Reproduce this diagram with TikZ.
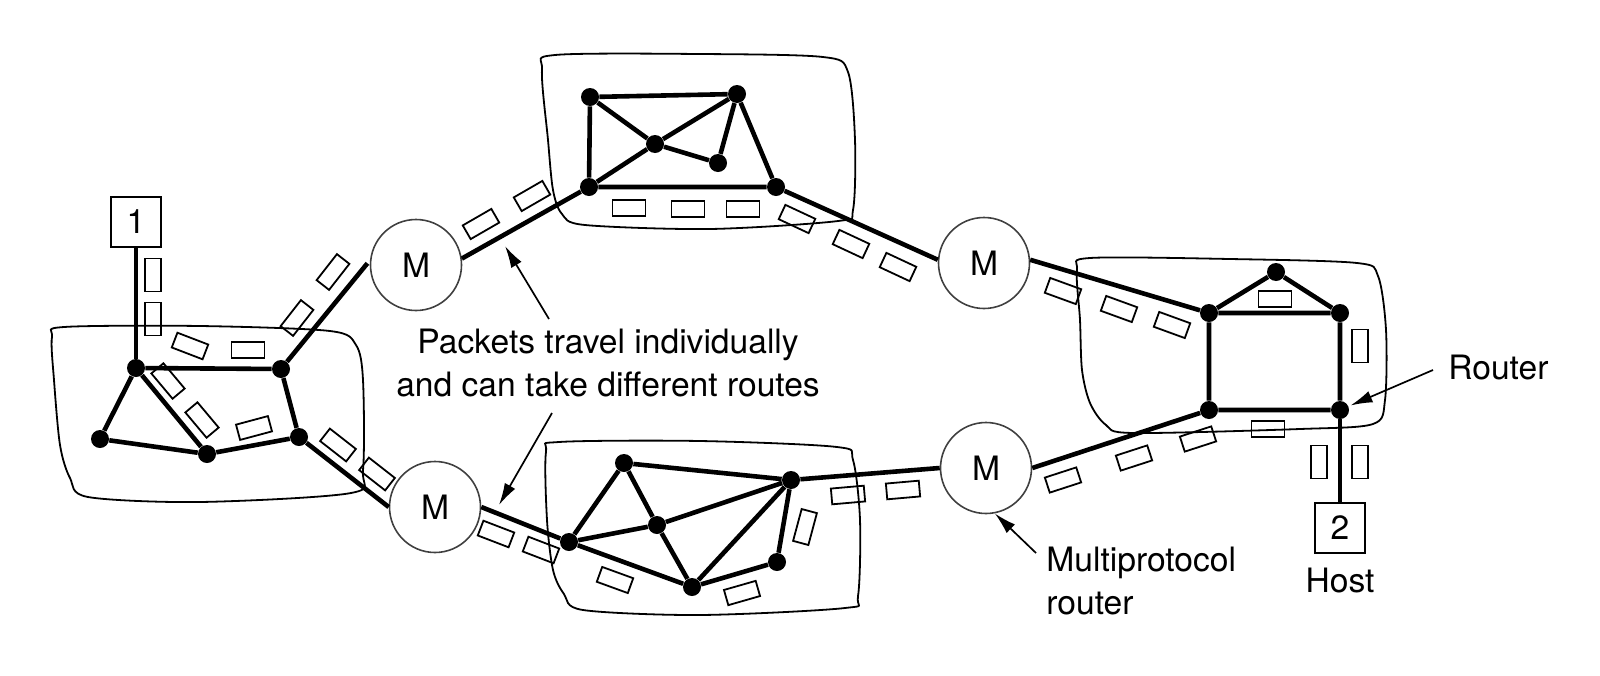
\documentclass[tikz,border=0pt]{standalone}
\usepackage{fontspec}
\setmainfont{TeX Gyre Heros}
\usetikzlibrary{arrows.meta}
\begin{document}
\begin{tikzpicture}[x=0.5pt,y=-0.5pt,
  link/.style={line width=2.3pt},
  dot/.style={circle,fill=black,inner sep=0pt,minimum size=9pt},
  mrouter/.style={circle,draw=black!75,line width=0.8pt,minimum size=45.5pt,inner sep=0pt,font=\fontsize{16.8}{21.5}\selectfont},
  hostbox/.style={draw,line width=0.9pt,minimum size=25pt,inner sep=0pt,font=\fontsize{16.8}{21.5}\selectfont},
  pkt/.style={draw,line width=0.9pt,minimum width=16.5pt,minimum height=7.9pt,inner sep=0pt},
  blob/.style={line width=0.9pt},
  lbl/.style={inner sep=0pt,font=\fontsize{16.8}{21.5}\selectfont},
  arr/.style={line width=0.85pt,-{Latex[length=11pt,width=6pt]}},
]
\useasboundingbox (0,0) rectangle (1600,675);
\fill[white] (0,0) rectangle (1600,675);

% networks (clouds)
\draw[blob] plot[smooth cycle,tension=0.5] coordinates {(52,337) (64,327) (200,326) (330,331) (356,345) (363,380) (363,470) (351,493) (200,502) (88,497) (70,478) (60,445) (54,380)};
\draw[blob] plot[smooth cycle,tension=0.5] coordinates {(542,70) (555,55) (700,54) (823,57) (848,72) (855,140) (853,210) (838,221) (710,229) (585,225) (562,214) (553,190) (548,140)};
\draw[blob] plot[smooth cycle,tension=0.5] coordinates {(546,452) (559,442) (700,441) (837,447) (853,460) (860,520) (858,596) (845,608) (700,615) (583,610) (564,594) (553,570) (547,520)};
\draw[blob] plot[smooth cycle,tension=0.5] coordinates {(1077,270) (1090,258) (1230,259) (1357,263) (1378,276) (1386,330) (1385,400) (1373,424) (1300,429) (1133,433) (1106,425) (1090,403) (1082,370) (1080,320)};

% multiprotocol routers
\node[mrouter] (M1) at (416,265) {M};
\node[mrouter] (M2) at (435,507) {M};
\node[mrouter] (M3) at (984,263) {M};
\node[mrouter] (M4) at (986,468) {M};

% hosts
\node[hostbox] (H1) at (136,222) {1};
\node[hostbox] (H2) at (1340,528) {2};

% routers: left network
\node[dot] (A) at (136,368) {};
\node[dot] (B) at (281,369) {};
\node[dot] (C) at (100,439) {};
\node[dot] (D) at (207,454) {};
\node[dot] (E) at (299,437) {};
% top network
\node[dot] (T1) at (590,97) {};
\node[dot] (T2) at (737,94) {};
\node[dot] (T3) at (655,144) {};
\node[dot] (T4) at (718,163) {};
\node[dot] (T5) at (589,187) {};
\node[dot] (T6) at (776,187) {};
% bottom network
\node[dot] (U1) at (624,463) {};
\node[dot] (U2) at (791,480) {};
\node[dot] (U3) at (569,542) {};
\node[dot] (U4) at (657,525) {};
\node[dot] (U5) at (692,587) {};
\node[dot] (U6) at (777,562) {};
% right network
\node[dot] (R1) at (1276,272) {};
\node[dot] (R2) at (1209,313) {};
\node[dot] (R3) at (1340,313) {};
\node[dot] (R4) at (1209,410) {};
\node[dot] (R5) at (1340,410) {};

% links
\draw[link] (A)--(B) (A)--(C) (A)--(D) (C)--(D) (D)--(E) (B)--(E);
\draw[link,shorten >=2pt] (B)--(M1.174);
\draw[link] (E)--(M2.180);
\draw[link] (H1)--(A);
\draw[link] (T1)--(T2) (T1)--(T5) (T1)--(T3) (T3)--(T4) (T5)--(T3) (T3)--(T2) (T2)--(T4) (T2)--(T6) (T5)--(T6);
\draw[link] (T5)--(M1.8);
\draw[link] (T6)--(M3.176);
\draw[link] (U1)--(U2) (U1)--(U3) (U1)--(U4) (U3)--(U4) (U4)--(U2) (U3)--(U5) (U4)--(U5) (U5)--(U2) (U5)--(U6) (U6)--(U2);
\draw[link] (M2.0)--(U3);
\draw[link] (U2)--(M4.180);
\draw[link] (R1)--(R2) (R1)--(R3) (R2)--(R3) (R2)--(R4) (R3)--(R5) (R4)--(R5);
\draw[link] (M3.4)--(R2);
\draw[link] (M4.0)--(R4);
\draw[link] (R5)--(H2);

% packets
\node[pkt,rotate=90]  (p1) at (153,275) {};
\node[pkt,rotate=90]  (p2) at (153,319) {};
\node[pkt,rotate=-21] (p3) at (190,346) {};
\node[pkt]            (p4) at (248,350) {};
\node[pkt,rotate=-50] (p5) at (168,381) {};
\node[pkt,rotate=-50] (p6) at (202,420) {};
\node[pkt,rotate=15]  (p7) at (254,428) {};
\node[pkt,rotate=52]  (p8) at (297,318) {};
\node[pkt,rotate=52]  (p9) at (333,272) {};
\node[pkt,rotate=-38] (p10) at (338,445) {};
\node[pkt,rotate=-38] (p11) at (377,474) {};
\node[pkt,rotate=30]  (p12) at (481,224) {};
\node[pkt,rotate=30]  (p13) at (532,196) {};
\node[pkt]            (p14) at (629,208) {};
\node[pkt]            (p15) at (688,209) {};
\node[pkt]            (p16) at (743,209) {};
\node[pkt,rotate=-25] (p17) at (797,219) {};
\node[pkt,rotate=-25] (p18) at (851,244) {};
\node[pkt,rotate=-25] (p19) at (898,267) {};
\node[pkt,rotate=-20] (p20) at (1063,291) {};
\node[pkt,rotate=-20] (p21) at (1119,309) {};
\node[pkt,rotate=-20] (p22) at (1172,325) {};
\node[pkt]            (p23) at (1275,299) {};
\node[pkt,rotate=90]  (p24) at (1360,346) {};
\node[pkt]            (p25) at (1268,429) {};
\node[pkt,rotate=18]  (p26) at (1198,439) {};
\node[pkt,rotate=18]  (p27) at (1134,458) {};
\node[pkt,rotate=18]  (p28) at (1063,480) {};
\node[pkt,rotate=90]  (p29) at (1319,462) {};
\node[pkt,rotate=90]  (p30) at (1360,462) {};
\node[pkt,rotate=5]   (p31) at (903,490) {};
\node[pkt,rotate=5]   (p32) at (848,495) {};
\node[pkt,rotate=75]  (p33) at (805,527) {};
\node[pkt,rotate=16]  (p34) at (742,593) {};
\node[pkt,rotate=-20] (p35) at (615,580) {};
\node[pkt,rotate=-21] (p36) at (541,550) {};
\node[pkt,rotate=-21] (p37) at (496,534) {};

% labels
\node[lbl,align=center,anchor=north] (txt) at (608,329) {Packets travel individually\\and can take different routes};
\node[lbl,align=left,anchor=north west] (mpr) at (1046,547) {Multiprotocol\\router};
\node[lbl,anchor=base] (hst) at (1340,592) {Host};
\node[lbl,anchor=base west] (rtr) at (1448,379) {Router};

% arrows
\coordinate (a1t) at (549,319);
\coordinate (a1h) at (505,246);
\coordinate (a2t) at (552,413);
\coordinate (a2h) at (499,505);
\coordinate (a3t) at (1036,553);
\coordinate (a4t) at (1433,370);
\draw[arr] (a1t)--(a1h);
\draw[arr] (a2t)--(a2h);
\draw[arr] (a3t)--(M4.-79);
\draw[arr,shorten >=1pt] (a4t)--(R5);
\end{tikzpicture}
\end{document}
